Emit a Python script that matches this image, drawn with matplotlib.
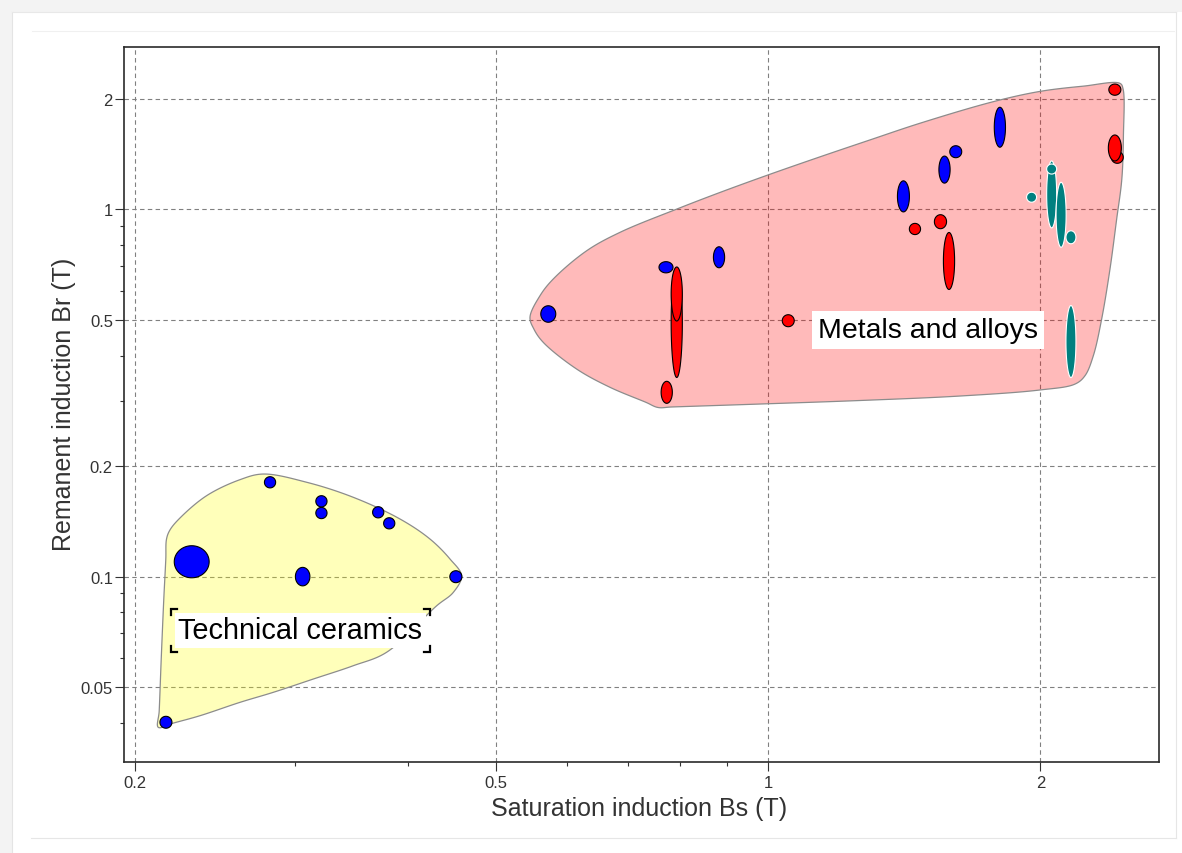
import numpy as np
import matplotlib
matplotlib.use("Agg")
import matplotlib.pyplot as plt
from matplotlib.patches import Rectangle, Polygon
from matplotlib.lines import Line2D
from matplotlib.ticker import FixedLocator, FixedFormatter, NullFormatter

# ---------------------------------------------------------------------------
# Material records: ranges of saturation induction Bs and remanent induction Br (T)
# ---------------------------------------------------------------------------
ceramic_bs_low = [0.2778, 0.3166, 0.3166, 0.3658, 0.3762, 0.2208, 0.3005, 0.4451, 0.2129]
ceramic_bs_high = [0.2857, 0.3256, 0.3256, 0.3762, 0.3869, 0.2413, 0.3118, 0.4590, 0.2195]
ceramic_br_low = [0.1745, 0.1549, 0.1439, 0.1445, 0.1349, 0.0992, 0.0943, 0.0962, 0.0386]
ceramic_br_high = [0.1869, 0.1659, 0.1541, 0.1549, 0.1445, 0.1213, 0.1059, 0.1037, 0.0416]

metal_blue_bs_low = [0.5610, 0.7578, 0.8706, 1.781, 1.588, 1.545, 1.390]
metal_blue_bs_high = [0.5828, 0.7853, 0.8953, 1.827, 1.637, 1.589, 1.433]
metal_blue_br_low = [0.4929, 0.6724, 0.6938, 1.478, 1.384, 1.180, 0.985]
metal_blue_br_high = [0.5467, 0.7204, 0.7915, 1.899, 1.492, 1.398, 1.197]

metal_red_bs_low = [0.7818, 0.7818, 0.7631, 1.037, 1.433, 1.527, 1.565, 2.380, 2.395, 2.377]
metal_red_bs_high = [0.8040, 0.8040, 0.7828, 1.069, 1.474, 1.575, 1.605, 2.454, 2.469, 2.457]
metal_red_br_low = [0.3485, 0.4968, 0.2964, 0.4793, 0.8549, 0.8865, 0.6054, 2.055, 1.336, 1.356]
metal_red_br_high = [0.6949, 0.6973, 0.3403, 0.5168, 0.9160, 0.9679, 0.8657, 2.189, 1.440, 1.596]

metal_teal_bs_low = [1.933, 2.033, 2.081, 2.032, 2.134, 2.134]
metal_teal_bs_high = [1.978, 2.083, 2.135, 2.084, 2.189, 2.189]
metal_teal_br_low = [1.050, 0.891, 0.7888, 1.249, 0.8065, 0.3484]
metal_teal_br_high = [1.111, 1.356, 1.1862, 1.330, 0.8750, 0.5476]

# Family envelopes (Bs, Br) in T
ceramic_env_bs = [0.2120, 0.2125, 0.2136, 0.2150, 0.2161, 0.2165, 0.2184, 0.2240, 0.2398,
                  0.2610, 0.2769, 0.3093, 0.3481, 0.3922, 0.4232, 0.4453, 0.4586, 0.4491,
                  0.4305, 0.3790, 0.3481, 0.3145, 0.2841, 0.2610, 0.2357, 0.2195]
ceramic_env_br = [0.03882, 0.04299, 0.05961, 0.08683, 0.1116, 0.1265, 0.1339, 0.1443, 0.1661,
                  0.1836, 0.1902, 0.1806, 0.1644, 0.1434, 0.1265, 0.1116, 0.1005, 0.09055,
                  0.08325, 0.06217, 0.05713, 0.05256, 0.04836, 0.04541, 0.04175, 0.03977]

metal_env_bs = [0.5458, 0.5599, 0.5791, 0.6306, 0.6864, 0.7928, 0.8851, 1.001, 1.142,
                1.297, 1.472, 1.774, 1.998, 2.230, 2.449, 2.468, 2.470, 2.460, 2.428,
                2.387, 2.337, 2.288, 2.240, 2.184, 1.998, 1.630, 1.264, 0.9799, 0.7833,
                0.7557, 0.7330, 0.6689, 0.6145, 0.5645, 0.5512]
metal_env_br = [0.5085, 0.5823, 0.6466, 0.7722, 0.8667, 1.0025, 1.113, 1.243, 1.392,
                1.548, 1.718, 1.967, 2.098, 2.168, 2.206, 2.129, 1.589, 1.211, 0.9421,
                0.6884, 0.5030, 0.3996, 0.3525, 0.3345, 0.3223, 0.3103, 0.3017, 0.2951,
                0.2897, 0.2888, 0.2983, 0.3278, 0.3676, 0.4346, 0.4725]

x_ticks = [0.2, 0.5, 1, 2]
x_tick_labels = ["0.2", "0.5", "1", "2"]
y_ticks = [0.05, 0.1, 0.2, 0.5, 1, 2]
y_tick_labels = ["0.05", "0.1", "0.2", "0.5", "1", "2"]
x_minor = [0.3, 0.4, 0.6, 0.7, 0.8, 0.9]
y_minor = [0.04, 0.06, 0.07, 0.08, 0.09, 0.3, 0.4, 0.6, 0.7, 0.8, 0.9]
x_limits = (0.1943, 2.704)
y_limits = (0.03129, 2.777)

# ---------------------------------------------------------------------------
W, H, DPI = 1182, 854, 100
plt.rcParams["font.family"] = ["Liberation Sans", "DejaVu Sans"]
fig = plt.figure(figsize=(W / DPI, H / DPI), dpi=DPI, facecolor="white")


def frame_rect(x0, y0, x1, y1, **kw):
    """Rectangle in pixel units measured from the top-left corner of the page."""
    fig.patches.append(Rectangle((x0 / W, 1 - y1 / H), (x1 - x0) / W, (y1 - y0) / H,
                                 transform=fig.transFigure, **kw))


def frame_line(xs, ys, **kw):
    fig.lines.append(Line2D([x / W for x in xs], [1 - y / H for y in ys],
                            transform=fig.transFigure, **kw))


# page shading and panel border
frame_rect(0, 0, W, 12.5, fc="#f3f3f3", ec="none")
frame_rect(0, 0, 11.5, H, fc="#f3f3f3", ec="none")
frame_line([11.5, 11.5], [12.5, H], color="#e4e4e4", lw=0.8)
frame_line([11.5, 1176], [12.5, 12.5], color="#e8e8e8", lw=0.8)
frame_line([32, 1174], [31.5, 31.5], color="#f0f0f0", lw=0.8)
frame_line([31, 1176], [839, 839], color="#e6e6e6", lw=0.8)
frame_line([1176, 1176], [12.5, 839], color="#e6e6e6", lw=0.8)

ax_left, ax_right, ax_top, ax_bottom = 124, 1159, 47.7, 762.7
ax = fig.add_axes([ax_left / W, 1 - ax_bottom / H, (ax_right - ax_left) / W,
                   (ax_bottom - ax_top) / H])
ax.set_xscale("log")
ax.set_yscale("log")
ax.set_xlim(*x_limits)
ax.set_ylim(*y_limits)

ax.xaxis.set_major_locator(FixedLocator(x_ticks))
ax.xaxis.set_major_formatter(FixedFormatter(x_tick_labels))
ax.yaxis.set_major_locator(FixedLocator(y_ticks))
ax.yaxis.set_major_formatter(FixedFormatter(y_tick_labels))
ax.xaxis.set_minor_locator(FixedLocator(x_minor))
ax.yaxis.set_minor_locator(FixedLocator(y_minor))
ax.xaxis.set_minor_formatter(NullFormatter())
ax.yaxis.set_minor_formatter(NullFormatter())

ax.tick_params(which="major", direction="out", length=6.5, width=0.8, color="#333333",
               labelsize=12, labelcolor="#333333")
ax.tick_params(axis="x", which="major", pad=3)
ax.tick_params(axis="y", which="major", pad=1.5)
ax.tick_params(which="minor", direction="out", length=2.8, width=0.8, color="#333333")
ax.tick_params(top=False, right=False, which="both")
for s in ax.spines.values():
    s.set_color("#2a2a2a")
    s.set_linewidth(1.2)

ax.set_axisbelow(True)
ax.grid(True, which="major", color="#808080", lw=0.8, ls=(0, (4, 3)))

ax.set_xlabel("Saturation induction Bs (T)", fontsize=18, color="#333333")
ax.set_ylabel("Remanent induction Br (T)", fontsize=18, color="#333333")
ax.xaxis.set_label_coords((639 - ax_left) / (ax_right - ax_left),
                          -(809 - ax_bottom) / (ax_bottom - ax_top))
ax.xaxis.label.set_va("center")
ax.yaxis.set_label_coords(-(ax_left - 64) / (ax_right - ax_left),
                          (ax_bottom - 404) / (ax_bottom - ax_top))
ax.yaxis.label.set_va("center")

# pixels per decade, used to keep smoothing and marker sizes isotropic on screen
px_dec_x = (ax_right - ax_left) / np.log10(x_limits[1] / x_limits[0])
px_dec_y = (ax_bottom - ax_top) / np.log10(y_limits[1] / y_limits[0])


def catmull_rom_closed(P, n=20, alpha=0.5):
    N = len(P)
    segs = []
    for i in range(N):
        p0, p1, p2, p3 = P[i - 1], P[i], P[(i + 1) % N], P[(i + 2) % N]
        t0 = 0.0
        t1 = t0 + max(np.linalg.norm(p1 - p0), 1e-6) ** alpha
        t2 = t1 + max(np.linalg.norm(p2 - p1), 1e-6) ** alpha
        t3 = t2 + max(np.linalg.norm(p3 - p2), 1e-6) ** alpha
        t = np.linspace(t1, t2, n, endpoint=False)[:, None]
        A1 = (t1 - t) / (t1 - t0) * p0 + (t - t0) / (t1 - t0) * p1
        A2 = (t2 - t) / (t2 - t1) * p1 + (t - t1) / (t2 - t1) * p2
        A3 = (t3 - t) / (t3 - t2) * p2 + (t - t2) / (t3 - t2) * p3
        B1 = (t2 - t) / (t2 - t0) * A1 + (t - t0) / (t2 - t0) * A2
        B2 = (t3 - t) / (t3 - t1) * A2 + (t - t1) / (t3 - t1) * A3
        segs.append((t2 - t) / (t2 - t1) * B1 + (t - t1) / (t2 - t1) * B2)
    return np.vstack(segs)


def draw_envelope(bs, br, rgb, alpha):
    P = np.column_stack([np.log10(bs) * px_dec_x, np.log10(br) * px_dec_y])
    C = catmull_rom_closed(P)
    verts = np.column_stack([10 ** (C[:, 0] / px_dec_x), 10 ** (C[:, 1] / px_dec_y)])
    ax.add_patch(Polygon(verts, closed=True, fc=rgb, alpha=alpha, ec="none", zorder=1))
    ax.add_patch(Polygon(verts, closed=True, fill=False, ec="#8c8c8c", lw=0.9, zorder=1.1))


def draw_bubbles(bs_lo, bs_hi, br_lo, br_hi, face, edge, min_px=5.6):
    t = np.linspace(0, 2 * np.pi, 90)
    for a, b, c, d in zip(bs_lo, bs_hi, br_lo, br_hi):
        cx = 0.5 * (np.log10(a) + np.log10(b))
        cy = 0.5 * (np.log10(c) + np.log10(d))
        hx = max(0.5 * np.log10(b / a), min_px / px_dec_x)
        hy = max(0.5 * np.log10(d / c), min_px / px_dec_y)
        verts = np.column_stack([10 ** (cx + hx * np.cos(t)), 10 ** (cy + hy * np.sin(t))])
        ax.add_patch(Polygon(verts, closed=True, fc=face, ec=edge, lw=0.8, zorder=3))


draw_envelope(ceramic_env_bs, ceramic_env_br, (1.0, 1.0, 0.0), 0.27)
draw_envelope(metal_env_bs, metal_env_br, (1.0, 0.0, 0.0), 0.27)

draw_bubbles(ceramic_bs_low, ceramic_bs_high, ceramic_br_low, ceramic_br_high, "#0000ff", "black")
draw_bubbles(metal_blue_bs_low, metal_blue_bs_high, metal_blue_br_low, metal_blue_br_high,
             "#0000ff", "black")
draw_bubbles(metal_red_bs_low, metal_red_bs_high, metal_red_br_low, metal_red_br_high,
             "#ff0000", "black")
draw_bubbles(metal_teal_bs_low, metal_teal_bs_high, metal_teal_br_low, metal_teal_br_high,
             "#008080", "white", min_px=5.0)

# family labels
metal_label = ax.text(1.503, 0.4694, "Metals and alloys", fontsize=20.5, color="black",
                      ha="center", va="center", zorder=6,
                      bbox=dict(boxstyle="square,pad=0.2", fc="white", ec="none"))
ceramic_label = ax.text(0.3041, 0.07137, "Technical ceramics", fontsize=20.8, color="black",
                        ha="center", va="center", zorder=6,
                        bbox=dict(boxstyle="square,pad=0.12", fc="white", ec="none"))

# selection brackets around the ceramics label
fig.canvas.draw()
bb = ceramic_label.get_bbox_patch().get_window_extent()
m, arm = 4.0, 6.0
x0, x1, y0, y1 = bb.x0 - m, bb.x1 + m, bb.y0 - m, bb.y1 + m
inv = fig.transFigure.inverted()
for (cx, cy, sx, sy) in [(x0, y0, 1, 1), (x1, y0, -1, 1), (x0, y1, 1, -1), (x1, y1, -1, -1)]:
    pts = inv.transform([(cx + sx * arm, cy), (cx, cy), (cx, cy + sy * arm)])
    fig.lines.append(Line2D(pts[:, 0], pts[:, 1], transform=fig.transFigure,
                            color="black", lw=1.6, solid_joinstyle="miter"))

fig.savefig("out.png", dpi=DPI, facecolor="white")
